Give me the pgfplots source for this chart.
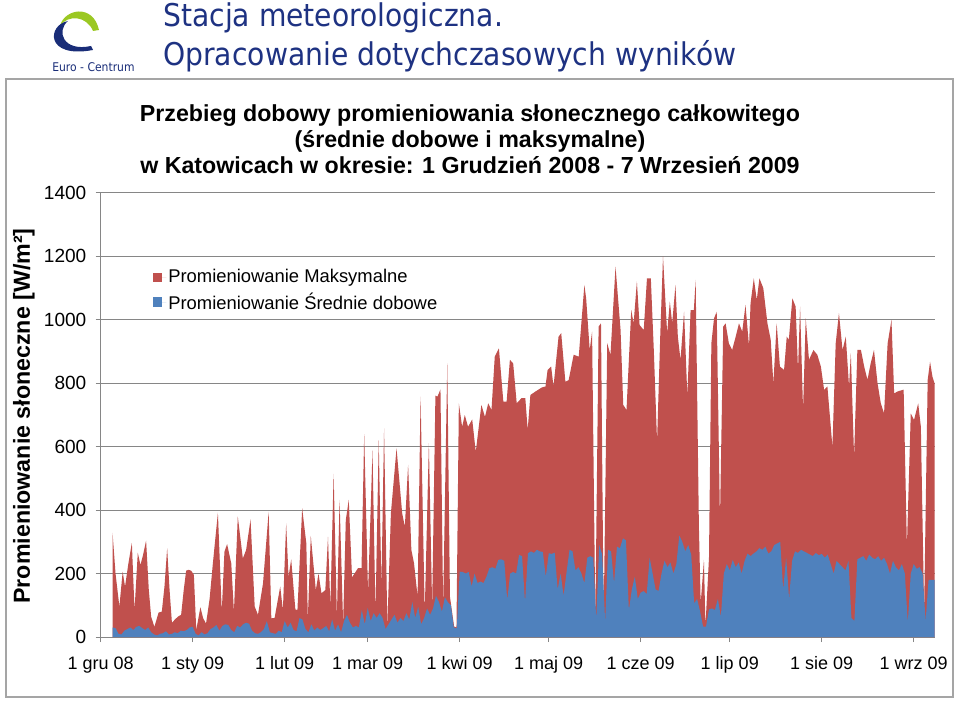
\documentclass[border=0pt]{standalone}
\usepackage{pgfplots}
\pgfplotsset{compat=1.18}
\usepackage{fontspec}
\setmainfont{Liberation Sans}
\newfontfamily\titlefont[FakeStretch=0.9]{DejaVu Sans}
\definecolor{exred}{RGB}{192,80,77}
\definecolor{exblue}{RGB}{79,129,189}
\definecolor{gridgray}{RGB}{134,134,134}
\definecolor{framegray}{RGB}{165,165,165}
\definecolor{titleblue}{RGB}{30,50,130}
\definecolor{logogreen}{RGB}{155,200,35}
\definecolor{logoblue}{RGB}{25,45,120}
\begin{document}
\begin{tikzpicture}
\path[use as bounding box] (0pt,0pt) rectangle (720pt,525.75pt);
\begin{scope}[x=0.75pt,y=-0.75pt,shift={(0pt,525.75pt)}]
  % frame
  \draw[framegray, line width=1.2pt] (6,79) rectangle (953,697);
  % logo
  \fill[logogreen] (60,26) .. controls (64,9) and (93,3) .. (99,30) -- (93,31) .. controls (87,16) and (68,14) .. (60,26) -- cycle;
  \fill[logoblue] (68,21) .. controls (47,25) and (45,59) .. (93,50) -- (91,46) .. controls (63,52) and (56,31) .. (68,21) -- cycle;
  \node[anchor=base west, inner sep=0pt, text=logoblue, font=\titlefont\fontsize{9}{10}\selectfont] at (52,72) {Euro - Centrum};
  % page title
  \node[anchor=base west, inner sep=0pt, text=titleblue, font=\titlefont\fontsize{23.5}{28}\selectfont] at (163,27) {Stacja meteorologiczna.};
  \node[anchor=base west, inner sep=0pt, text=titleblue, font=\titlefont\fontsize{23.5}{28}\selectfont] at (163,66) {Opracowanie dotychczasowych wyników};
  % chart title
  \node[align=center, inner sep=0pt, font=\bfseries\fontsize{17.4}{19.5}\selectfont] at (470,139) {Przebieg dobowy promieniowania słonecznego całkowitego\\(średnie dobowe i maksymalne)\\w Katowicach w okresie: 1 Grudzień 2008 - 7 Wrzesień 2009};
  % y label
  \node[rotate=90, inner sep=0pt, font=\bfseries\fontsize{17.4}{20}\selectfont] at (24,416) {Promieniowanie słoneczne [W/m²]};
\end{scope}
\begin{axis}[
  at={(75.525pt,48pt)}, anchor=south west,
  width=625.35pt, height=333pt, scale only axis,
  xmin=0, xmax=281, ymin=0, ymax=1400,
  ytick={0,200,...,1400},
  xtick={0,31,62,90,121,151,182,212,243,274},
  xticklabels={1 gru 08,1 sty 09,1 lut 09,1 mar 09,1 kwi 09,1 maj 09,1 cze 09,1 lip 09,1 sie 09,1 wrz 09},
  axis x line*=bottom, axis y line*=left,
  ymajorgrids, grid style={gridgray, line width=0.75pt},
  axis line style={gridgray, line width=0.75pt},
  tick style={gridgray, line width=0.75pt},
  tick align=outside, major tick length=3.75pt,
  xticklabel style={font=\fontsize{13.5}{16}\selectfont, anchor=north, text height=9.8pt, text depth=3pt, yshift=-7pt},
  yticklabel style={font=\fontsize{14.3}{16}\selectfont, xshift=-3.5pt},
  /pgf/number format/assume math mode=true,
  /pgf/number format/1000 sep={},
  scaled y ticks=false,
  legend style={at={(0.0627,0.833)}, anchor=north west, draw=none, fill=none,
    font=\fontsize{13.8}{16}\selectfont, row sep=3pt, inner sep=0pt, nodes={inner sep=1.5pt}},
  legend cell align=left,
  legend image code/.code={\fill[#1] (0pt,-3.4pt) rectangle (6.8pt,3.4pt); \path (0pt,0pt) -- (9.8pt,0pt);},
]
\addplot[draw=none, fill=exred] coordinates {
(4,328)(5,200)(6.3,96)(7.4,206)(8.2,159)(9.3,230)(10.5,297)(11.4,85)(12.5,266)(13.4,227)
(14.3,260)(15.3,304)(16.2,150)(17,64)(18.1,32)(19.5,77)(20.6,80)(21.5,160)(22.4,280)(23.2,150)
(24,45)(25,55)(26,64)(27.1,70)(28,150)(28.8,209)(29.6,212)(30.5,209)(31.4,196)(32.2,22)
(33.6,94)(34.5,60)(35.5,42)(36.7,120)(37.8,232)(39.5,392)(40.8,80)(41.7,269)(42.6,293)(44,232)
(44.9,80)(46.2,380)(47.9,248)(49,274)(50.5,371)(51.9,96)(53,70)(54.7,169)(56.6,395)(57.5,59)
(58.6,60)(60.5,159)(61.4,85)(62.5,358)(63.3,190)(64.2,245)(65.6,87)(66.3,85)(67.9,406)(69.3,295)
(69.8,56)(70.8,319)(72.5,148)(73.4,200)(74.4,138)(75.7,148)(76.6,316)(77.4,96)(78.5,514)(79.6,64)
(80.5,432)(81.7,43)(82.6,369)(83.6,432)(84.7,188)(86.7,217)(87.9,217)(88.8,640)(90.1,138)(91.6,588)
(92.6,75)(93.7,621)(94.6,159)(95.5,658)(96.6,33)(97.8,390)(99.7,595)(101.6,390)(102.5,348)(103.6,543)
(104.7,274)(105.6,232)(106.8,127)(107.8,758)(109.2,75)(110.6,611)(111.7,95)(112.8,761)(113.5,758)(114.5,781)
(115.4,95)(116.8,863)(117.7,127)(119.1,33)(119.9,30)(120.7,737)(121.8,663)(122.7,700)(123.8,663)(125.2,686)
(126.4,584)(128.3,732)(129.5,694)(130.6,737)(131.7,716)(132.8,884)(134.2,910)(135.7,742)(136.8,742)(137.9,874)
(139,863)(140.2,737)(141.8,753)(143.1,753)(143.9,653)(144.8,763)(146.5,774)(148.7,787)(149.9,790)(150.6,842)
(151.8,853)(152.6,790)(154.3,947)(155.2,958)(156.6,805)(157.7,810)(159.4,890)(161.1,884)(163,1110)(163.6,1068)
(164.8,905)(165.6,963)(166.7,54)(167.8,979)(168.6,989)(169.5,48)(170.7,926)(171.8,890)(173.5,1168)(175.2,968)
(176.1,732)(177.2,716)(178.8,1031)(179.6,989)(180.7,1121)(181.6,984)(183,968)(184.1,1131)(185.4,1131)(186.4,905)
(187.5,616)(188.6,958)(189.5,1200)(190.9,958)(191.8,1058)(192.6,989)(193.7,1110)(194.5,947)(195.4,874)(196.6,1026)
(197.7,760)(198.8,1031)(199.9,1031)(200.5,1126)(201.6,348)(202.2,106)(203.3,243)(203.8,34)(205,250)(205.8,926)
(206.7,1005)(207.6,1026)(208.7,369)(209.8,979)(210.6,989)(211.7,926)(212.8,905)(214,947)(215.1,989)(216.2,963)
(217.3,1047)(218.5,916)(219,1052)(220.1,1131)(221.1,1063)(222,1131)(223.3,1100)(224.7,989)(225.8,937)(226.7,800)
(227.8,989)(228.9,853)(230.3,842)(231.2,947)(231.9,937)(233.1,1068)(234.2,1042)(235,842)(235.7,1042)(236.7,716)
(237.6,1005)(238.7,874)(240.2,905)(241.5,890)(242.7,853)(243.8,779)(244.9,790)(246.6,600)(247.7,926)(248.8,1021)
(250,905)(251.1,947)(252.2,790)(252.8,895)(253.9,569)(255,905)(256.2,905)(257.3,853)(258.4,811)(259.5,863)
(260.6,905)(261.8,800)(262.9,737)(264,705)(265.2,926)(266.5,1000)(267.4,768)(268.5,774)(270.6,780)(271.7,285)
(273,705)(274.1,684)(275.5,737)(276.4,663)(277.5,85)(278.7,811)(279.5,868)(280.3,821)(281,800)
} \closedcycle;
\addlegendentry{Promieniowanie Maksymalne}
\addplot[draw=none, fill=exblue] coordinates {
(4,30)(5,28)(6,10)(7,8)(8,20)(9,25)(10,30)(11,22)(12,32)(13,35)(14,28)(15,22)(16,30)(17,15)(18,8)(19,5)
(20,10)(21,12)(22,18)(23,8)(24,10)(25,15)(26,12)(27,20)(28,18)(29,22)(30,30)(31,32)(32,10)(33,5)(34,15)
(35,8)(36,12)(37,25)(38,30)(39,38)(40,20)(41,35)(42,40)(43,38)(44,22)(45,15)(46,35)(47,30)(48,40)(49,45)
(50,42)(51,20)(52,12)(53,10)(54,15)(55,25)(56,50)(57,15)(58,12)(59,10)(60,20)(61,15)(62,50)(63,30)(64,45)
(65,22)(66,18)(67,60)(68,55)(69,25)(70,15)(71,40)(72,20)(73,30)(74,22)(75,28)(76,35)(77,18)(78,55)(79,20)
(80,40)(81,15)(82,50)(83,70)(84,45)(85,30)(86,35)(87,30)(88,85)(89,40)(90,92)(91,50)(92,75)(93,60)(94,75)
(95,60)(96,25)(97,40)(98,55)(99,70)(100,45)(101,60)(102,50)(103,75)(104,55)(105,110)(106,60)(107,95)(108,40)(109,60)
(110,90)(111,70)(112,90)(113,130)(114,110)(115,80)(116,125)(117,110)(118,100)(119,30)(120,28)(121,206)(122,205)(123,200)(124,205)
(125,160)(126,200)(127,170)(128,175)(129,170)(130,190)(131,217)(132,220)(133,215)(134,243)(135,245)(136,240)(137,117)(138,200)(139,205)
(140,200)(141,259)(142,255)(143,110)(144,264)(145,270)(146,265)(147,275)(148,270)(149,268)(150,190)(151,264)(152,262)(153,266)(154,150)
(155,200)(156,130)(157,205)(158,275)(159,270)(160,210)(161,220)(162,200)(163,170)(164,250)(165,255)(166,250)(167,54)(168,290)(169,260)
(170,48)(171,275)(172,270)(173,170)(174,285)(175,280)(176,311)(177,305)(178,85)(179,150)(180,190)(181,120)(182,140)(183,145)(184,135)
(185,250)(186,200)(187,150)(188,145)(189,200)(190,240)(191,220)(192,235)(193,200)(194,230)(195,320)(196,300)(197,270)(198,290)(199,260)
(200,106)(201,120)(202,80)(203,33)(204,33)(205,87)(206,90)(207,85)(208,120)(209,64)(210,200)(211,230)(212,210)(213,243)(214,220)
(215,235)(216,200)(217,240)(218,263)(219,255)(220,263)(221,270)(222,280)(223,275)(224,285)(225,263)(226,270)(227,290)(228,295)(229,300)
(230,150)(231,250)(232,120)(233,240)(234,270)(235,265)(236,275)(237,270)(238,265)(239,260)(240,255)(241,265)(242,258)(243,262)(244,250)
(245,260)(246,230)(247,200)(248,240)(249,230)(250,220)(251,210)(252,240)(253,60)(254,50)(255,245)(256,250)(257,255)(258,240)(259,260)
(260,250)(261,245)(262,255)(263,240)(264,250)(265,230)(266,200)(267,240)(268,220)(269,210)(270,230)(271,200)(272,45)(273,200)(274,230)
(275,215)(276,220)(277,200)(278,50)(279,180)(280,180)(281,180)
} \closedcycle;
\addlegendentry{Promieniowanie Średnie dobowe}
\end{axis}
\end{tikzpicture}
\end{document}
